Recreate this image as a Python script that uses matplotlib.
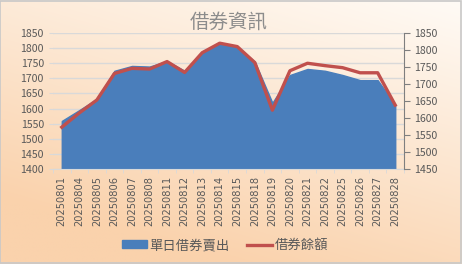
import numpy as np
import matplotlib.pyplot as plt
from matplotlib.patches import Patch
from matplotlib.lines import Line2D

plt.rcParams['font.family'] = ['Noto Sans CJK TC', 'DejaVu Sans']

dates = ['20250801', '20250804', '20250805', '20250806', '20250807', '20250808',
         '20250811', '20250812', '20250813', '20250814', '20250815', '20250818',
         '20250819', '20250820', '20250821', '20250822', '20250825', '20250826',
         '20250827', '20250828']
# 單日借券賣出 (left axis)
daily_sell = [1559, 1595, 1632, 1725, 1741, 1739, 1757, 1725, 1788, 1818,
              1805, 1755, 1619, 1711, 1731, 1725, 1711, 1694, 1694, 1612]
# 借券餘額 (right axis)
balance = [1573, 1615, 1653, 1731, 1746, 1744, 1766, 1734, 1792, 1820,
           1810, 1763, 1623, 1739, 1761, 1754, 1748, 1733, 1733, 1638]

W, H = 462, 264
fig = plt.figure(figsize=(W / 100, H / 100), dpi=100)

# gradient background
bg = fig.add_axes([0, 0, 1, 1])
yy, xx = np.mgrid[0:1:200j, 0:1:300j]
t = np.clip(0.8 * yy + 0.4 * (1 - xx), 0, 1)
top = np.array([255, 251, 246]) / 255
bot = np.array([250, 210, 172]) / 255
img = top[None, None, :] * (1 - t[..., None]) + bot[None, None, :] * t[..., None]
bg.imshow(img, aspect='auto', extent=[0, 1, 0, 1], origin='upper')
bg.add_patch(plt.Rectangle((0.001, 0.002), 0.997, 0.995, fill=False,
                           edgecolor='#c8c8c8', lw=1.2))
bg.set_axis_off()

ax = fig.add_axes([53 / W, (H - 169) / H, 351 / W, 136 / H])
ax.patch.set_alpha(0)
x = np.arange(len(dates))
ax.fill_between(x, 1400, daily_sell, color='#4a7ebb', zorder=2)
ax.set_ylim(1400, 1850)
ax.set_xlim(-0.5, len(dates) - 0.5)
ax.set_yticks(np.arange(1400, 1851, 50))
ax.grid(axis='y', color='#d9d9d9', lw=1, zorder=0)
ax.set_xticks(x)
ax.set_xticklabels(dates, rotation=90, fontsize=7.1, color='#595959',
                   family=['DejaVu Sans'])
ax.set_xticks(np.arange(-0.5, len(dates), 1), minor=True)
ax.tick_params(axis='x', which='major', length=0, pad=5)
ax.tick_params(axis='x', which='minor', length=3, color='#d9d9d9')
ax.tick_params(axis='y', length=3, color='#d9d9d9', labelsize=7.6,
               labelcolor='#595959')
for s in ['top', 'right', 'left']:
    ax.spines[s].set_visible(False)
ax.spines['bottom'].set_color('#d9d9d9')

ax2 = ax.twinx()
ax2.plot(x, balance, color='#c0504d', lw=2.4, zorder=3)
ax2.set_ylim(1450, 1850)
ax2.set_yticks(np.arange(1450, 1851, 50))
ax2.tick_params(axis='y', length=4, color='#7f7f7f', labelsize=7.6,
                labelcolor='#595959')
for s in ['top', 'left', 'bottom']:
    ax2.spines[s].set_visible(False)
ax2.spines['right'].set_color('#7f7f7f')

fig.text(229 / W, (H - 22) / H, '借券資訊', ha='center', va='center',
         fontsize=14, color='#8c8c8c', fontweight='light')

handles = [Patch(color='#4a7ebb', label='單日借券賣出'),
           Line2D([], [], color='#c0504d', lw=2.4, label='借券餘額')]
fig.legend(handles=handles, loc='center', bbox_to_anchor=(225 / W, (H - 245) / H),
           ncol=2, frameon=False, fontsize=9.6, handlelength=1.9,
           handleheight=0.5, columnspacing=1.3, handletextpad=0.15,
           labelcolor='#595959')

fig.savefig('out.png', dpi=100)
